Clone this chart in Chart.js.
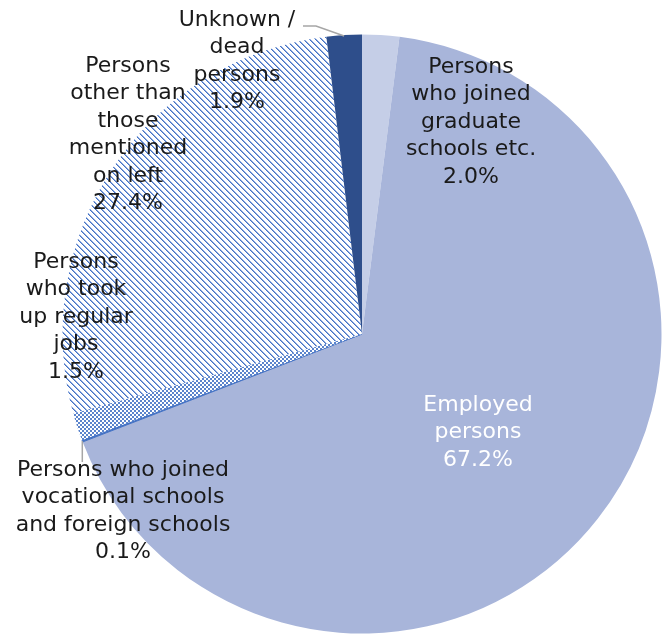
<!DOCTYPE html>
<html>
<head>
<meta charset="utf-8">
<script src="https://cdn.jsdelivr.net/npm/chart.js@4.4.1/dist/chart.umd.min.js"></script>
<style>
  html, body { margin: 0; padding: 0; background: #fff; }
  #wrap { width: 663px; height: 634px; }
</style>
</head>
<body>
<div id="wrap"><canvas id="myChart" width="663" height="634"></canvas></div>
<script>
// data
const categories = [
    'Persons who joined graduate schools etc.',
    'Employed persons',
    'Persons who joined vocational schools and foreign schools',
    'Persons who took up regular jobs',
    'Persons other than those mentioned on left',
    'Unknown / dead persons'
];
const shares = [2.0, 67.2, 0.1, 1.5, 27.4, 1.9];

// label lines as they are broken in the picture
const labelLines = [
    ['Persons', 'who joined', 'graduate', 'schools etc.'],
    ['Employed', 'persons'],
    ['Persons who joined', 'vocational schools', 'and foreign schools'],
    ['Persons', 'who took', 'up regular', 'jobs'],
    ['Persons', 'other than', 'those', 'mentioned', 'on left'],
    ['Unknown /', 'dead', 'persons']
];

const BLUE = '#4472C4';

function stripePattern() {
    const c = document.createElement('canvas');
    c.width = 6; c.height = 6;
    const g = c.getContext('2d');
    g.fillStyle = '#fff';
    g.fillRect(0, 0, 6, 6);
    for (let i = 0; i < 6; i++) {
        g.fillStyle = BLUE;
        g.fillRect(i, i, 1, 1);
        g.fillStyle = '#8FABE0';
        g.fillRect((i + 1) % 6, i, 1, 1);
    }
    return g.createPattern(c, 'repeat');
}

function checkerPattern() {
    const c = document.createElement('canvas');
    c.width = 4; c.height = 4;
    const g = c.getContext('2d');
    g.fillStyle = '#fff';
    g.fillRect(0, 0, 4, 4);
    g.fillStyle = '#5B84CC';
    g.fillRect(0, 0, 2, 2);
    g.fillRect(2, 2, 2, 2);
    return g.createPattern(c, 'repeat');
}

const FONT = '"DejaVu Sans", sans-serif';

// where each text block sits (centre x, first line y) and its colour
const labelPlaces = [
    { x: 471, y: 67, color: '#1a1a1a' },
    { x: 478, y: 405, color: '#fff' },
    { x: 123, y: 470, color: '#1a1a1a' },
    { x: 76, y: 262, color: '#1a1a1a' },
    { x: 128, y: 66, color: '#1a1a1a' },
    { x: 237, y: 20, color: '#1a1a1a' }
];

const labelPlugin = {
    id: 'sliceLabels',
    afterDatasetsDraw(chart) {
        const ctx = chart.ctx;
        const meta = chart.getDatasetMeta(0);
        ctx.save();

        // leader lines
        ctx.strokeStyle = '#A6A6A6';
        ctx.lineWidth = 1.5;
        const top = meta.data[5];
        const a = (top.startAngle + top.endAngle) / 2;
        const tx = top.x + Math.cos(a) * top.outerRadius;
        const ty = top.y + Math.sin(a) * top.outerRadius;
        ctx.beginPath();
        ctx.moveTo(tx, ty + 1);
        ctx.lineTo(316, 26);
        ctx.lineTo(303, 26);
        ctx.stroke();

        const voc = meta.data[2];
        const b = (voc.startAngle + voc.endAngle) / 2;
        const vx = voc.x + Math.cos(b) * voc.outerRadius;
        const vy = voc.y + Math.sin(b) * voc.outerRadius;
        ctx.beginPath();
        ctx.moveTo(vx, vy);
        ctx.lineTo(vx, 462);
        ctx.stroke();

        ctx.font = '22px ' + FONT;
        ctx.textAlign = 'center';
        ctx.textBaseline = 'middle';
        labelPlaces.forEach((p, i) => {
            ctx.fillStyle = p.color;
            const lines = labelLines[i].concat([shares[i].toFixed(1) + '%']);
            lines.forEach((t, k) => ctx.fillText(t, p.x, p.y + k * 27.5));
        });
        ctx.restore();
    }
};

const ctx = document.getElementById('myChart').getContext('2d');

const data = {
    labels: categories,
    datasets: [{
        data: shares,
        backgroundColor: ['#C5CEE7', '#A8B5DA', BLUE, checkerPattern(), stripePattern(), '#2E4E8B'],
        borderColor: ['#C5CEE7', '#A8B5DA', BLUE, BLUE, BLUE, '#2E4E8B'],
        borderWidth: [0, 0, 1, 0, 0, 0]
    }]
};

new Chart(ctx, {
    type: 'pie',
    data: data,
    options: {
        responsive: false,
        animation: false,
        layout: { padding: { left: 62, right: 1, top: 34, bottom: 0 } },
        plugins: {
            legend: { display: false },
            tooltip: { enabled: false }
        }
    },
    plugins: [labelPlugin]
});
</script>
</body>
</html>
